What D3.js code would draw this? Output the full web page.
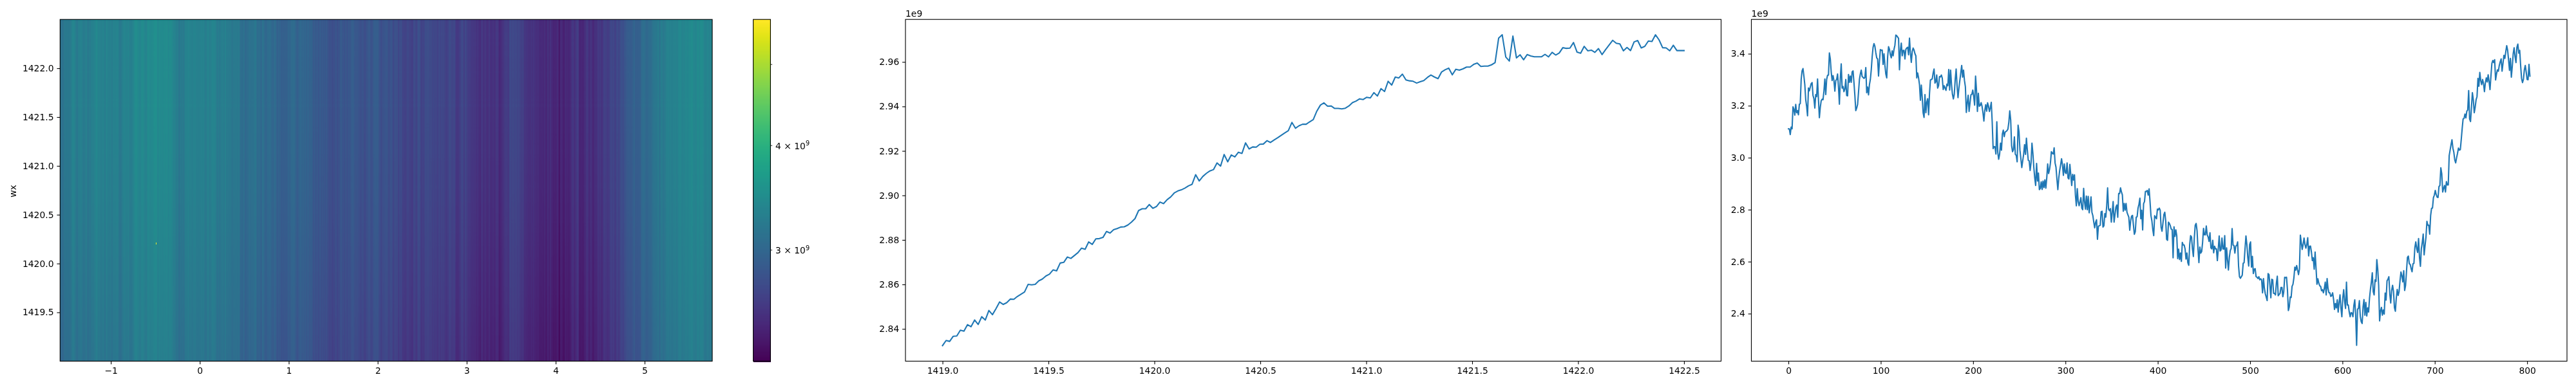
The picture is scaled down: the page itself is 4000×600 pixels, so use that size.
<!DOCTYPE html>
<html>
<head>
<meta charset="utf-8">
<script src="https://cdn.jsdelivr.net/npm/d3@7"></script>
<style>
html,body{margin:0;padding:0;background:#fff;width:4000px;height:600px;overflow:hidden}
canvas,svg{position:absolute;left:0;top:0}
text{font-family:"DejaVu Sans",sans-serif;fill:#000}
</style>
</head>
<body>
<canvas id="heat" width="4000" height="600"></canvas>
<svg id="chart" width="4000" height="600"></svg>
<script>
// ---- Data (units of 1e9) ----
const wxMean = [
2.8325,2.8348,2.8344,2.8367,2.8368,2.8394,2.8390,2.8419,2.8410,2.8440,2.8420,2.8455,2.8440,2.8483,2.8464,2.8491,2.8521,2.8510,2.8518,2.8534,
2.8533,2.8546,2.8556,2.8566,2.8600,2.8598,2.8600,2.8616,2.8624,2.8638,2.8646,2.8665,2.8661,2.8696,2.8699,2.8723,2.8717,2.8730,2.8743,2.8763,
2.8758,2.8791,2.8780,2.8805,2.8806,2.8811,2.8838,2.8831,2.8846,2.8851,2.8858,2.8859,2.8867,2.8880,2.8896,2.8932,2.8940,2.8940,2.8959,2.8942,
2.8950,2.8970,2.8963,2.8981,2.8993,2.9011,2.9020,2.9025,2.9033,2.9043,2.9050,2.9093,2.9065,2.9085,2.9099,2.9110,2.9116,2.9146,2.9132,2.9184,
2.9151,2.9182,2.9173,2.9194,2.9189,2.9236,2.9209,2.9218,2.9217,2.9230,2.9231,2.9246,2.9238,2.9249,2.9259,2.9270,2.9281,2.9291,2.9328,2.9302,
2.9313,2.9320,2.9320,2.9331,2.9341,2.9379,2.9406,2.9416,2.9401,2.9402,2.9391,2.9391,2.9389,2.9392,2.9402,2.9417,
2.9424,2.9434,2.9431,2.9441,2.9438,2.9462,2.9447,2.9480,2.9467,2.9513,2.9496,2.9532,2.9528,2.9545,2.9519,2.9515,2.9513,2.9505,2.9511,2.9516,
2.9530,2.9541,2.9532,2.9525,2.9555,2.9565,2.9572,2.9542,2.9567,2.9563,2.9569,2.9577,2.9577,2.9589,2.9595,2.9580,2.9581,2.9581,2.9587,2.9597,
2.9707,2.9722,2.9622,2.9604,2.9716,2.9618,2.9632,2.9610,2.9633,2.9627,2.9623,2.9623,2.9623,2.9634,2.9623,2.9643,2.9631,2.9640,2.9664,2.9661,
2.9662,2.9687,2.9644,2.9639,2.9670,2.9650,2.9653,2.9643,2.9660,2.9633,2.9655,2.9676,2.9697,2.9684,2.9681,2.9650,2.9665,2.9651,2.9690,2.9696,
2.9663,2.9670,2.9694,2.9692,2.9722,2.9699,2.9664,2.9663,2.9650,2.9675,2.9651,2.9651,2.9651];

const wyMeanA = [
3.111,3.111,3.089,3.118,3.111,3.196,3.186,3.164,3.205,3.173,3.181,3.165,3.206,3.208,3.301,3.334,3.343,3.314,3.281,3.223,
3.198,3.161,3.268,3.257,3.272,3.285,3.289,3.239,3.227,3.191,3.243,3.235,3.303,3.223,3.154,3.194,3.219,3.225,3.223,3.256,
3.303,3.243,3.301,3.317,3.318,3.403,3.380,3.330,3.297,3.316,3.297,3.256,3.297,3.301,3.322,3.272,3.206,3.305,3.361,3.268,
3.274,3.254,3.264,3.301,3.239,3.238,3.320,3.290,3.314,3.290,3.330,3.334,3.289,3.239,3.181,3.191,3.205,3.252,3.301,3.322,
3.337,3.312,3.309,3.305,3.309,3.347,3.250,3.272,3.242,3.281,3.301,3.338,3.388,3.425,3.439,3.429,3.404,3.384,3.380,3.314,
3.371,3.416,3.413,3.414,3.359,3.400,3.355,3.322,3.307,3.388,3.427,3.417,3.396,3.384,3.411,3.392,3.417,3.433,3.472,3.469,
3.464,3.459,3.338,3.413,3.441,3.392,3.413,3.413,3.380,3.417,3.422,3.425,3.396,3.460,3.404,3.367,3.408,3.422,3.414,3.400,
3.392,3.307,3.326,3.307,3.281,3.221,3.279,3.231,3.172,3.155,3.243,3.173,3.214,3.227,3.165,3.247,3.299,3.301,3.303,3.326,
3.341,3.287];
const wyMeanB = [
3.292,3.318,3.268,3.277,3.312,3.311,3.318,3.306,3.262,3.277,3.268,3.259,3.283,3.277,3.339,3.260,3.337,3.281,3.244,3.226,
3.244,3.302,3.341,3.277,3.231,3.268,3.297,3.326,3.355,3.310,3.337,3.297,3.273,3.174,3.211,3.240,3.178,3.211,3.242,3.244,
3.260,3.235,3.202,3.314,3.260,3.178,3.248,3.198,3.201,3.212,3.198,3.174,3.141,3.182,3.204,3.179,3.211,3.198,3.178,3.193,
3.213,3.137,3.035,3.043,3.042,3.014,3.138,3.021,2.994,3.013,3.056,3.029,3.091,3.106,3.081,3.099,3.101,3.104,3.110,3.137,
3.180,3.145,3.046,3.023,3.031,3.080,3.013,3.009,2.984,3.125,3.099,3.029,2.996,2.962,2.988,3.013,3.050,3.013,3.075,3.029,
2.990,2.988,2.951,2.980,3.056,3.017,2.963,2.922,2.893,2.978,2.910,2.941,2.877,2.881,2.907,2.878,2.910,2.885,2.915,2.883,
2.922,2.976,2.939,2.955,2.980,3.023,3.017,3.014,3.038,2.980,2.963,2.918,2.877,2.922,2.951,2.972,2.996,2.972,2.932,2.976,
2.943,2.939,2.980,2.922,2.918,2.974,2.934,2.893,2.936,2.914,2.934,2.856,2.815,2.881,2.831,2.815];
const wyMeanC = [
2.846,2.806,2.800,2.882,2.831,2.802,2.852,2.800,2.851,2.788,2.814,2.849,2.790,2.777,2.752,2.730,2.752,2.761,2.686,2.736,
2.738,2.740,2.792,2.794,2.733,2.738,2.785,2.771,2.814,2.884,2.802,2.796,2.804,2.752,2.790,2.831,2.752,2.781,2.810,2.818,
2.771,2.862,2.862,2.884,2.868,2.857,2.794,2.824,2.798,2.824,2.790,2.780,2.771,2.721,2.757,2.775,2.778,2.740,2.705,2.715,
2.771,2.773,2.806,2.821,2.844,2.765,2.798,2.722,2.823,2.831,2.870,2.870,2.874,2.856,2.880,2.831,2.777,2.757,2.723,2.700,
2.777,2.771,2.765,2.802,2.799,2.806,2.798,2.732,2.717,2.748,2.781,2.790,2.757,2.686,2.682,2.752,2.747,2.738,2.725,2.723,
2.615,2.734,2.697,2.722,2.699,2.612,2.648,2.608,2.633,2.601,2.674,2.664,2.664,2.649,2.610,2.633,2.596,2.586,2.666,2.700,
2.695,2.649,2.620,2.691,2.740,2.747,2.719,2.649,2.596,2.656,2.633,2.639,2.674,2.728,2.703,2.703,2.737,2.703,2.695,2.678,
2.711,2.653,2.649,2.682,2.634,2.659,2.649,2.649,2.604,2.649,2.699,2.641,2.645,2.691,2.649,2.648,2.700,2.575,2.653,2.608];
const wyMeanD = [
2.568,2.616,2.643,2.651,2.727,2.664,2.662,2.633,2.660,2.662,2.676,2.583,2.542,2.536,2.542,2.548,2.594,2.596,2.649,2.699,
2.666,2.616,2.583,2.666,2.676,2.579,2.620,2.554,2.571,2.573,2.542,2.540,2.535,2.542,2.530,2.534,2.530,2.480,2.535,2.497,
2.476,2.464,2.450,2.554,2.550,2.509,2.461,2.532,2.530,2.478,2.478,2.472,2.517,2.544,2.469,2.474,2.478,2.501,2.501,2.465,
2.484,2.540,2.538,2.540,2.492,2.412,2.426,2.464,2.462,2.505,2.513,2.538,2.579,2.567,2.585,2.568,2.550,2.571,2.702,2.674,
2.647,2.666,2.691,2.666,2.652,2.667,2.692,2.622,2.659,2.660,2.637,2.604,2.615,2.571,2.637,2.575,2.513,2.534,2.517,2.507,
2.505,2.488,2.492,2.480,2.497,2.521,2.472,2.535,2.497,2.480,2.480,2.466,2.469,2.480,2.455,2.416,2.439,2.422,2.453,2.406,
2.443,2.472,2.422,2.388,2.460,2.492,2.447,2.420,2.521,2.433,2.433,2.406,2.388,2.404,2.402,2.388,2.431,2.453,2.394,2.278,
2.417,2.420,2.450,2.389,2.369,2.362,2.426,2.454,2.394,2.443,2.391,2.422,2.406,2.460,2.494,2.521,2.557,2.484,2.472,2.530,
2.524];
const wyMeanE = [
2.608,2.571,2.509,2.372,2.410,2.424,2.394,2.414,2.398,2.479,2.452,2.526,2.532,2.542,2.476,2.441,2.489,2.509,2.485,2.423,
2.409,2.460,2.493,2.470,2.485,2.526,2.560,2.546,2.522,2.565,2.489,2.509,2.563,2.616,2.621,2.592,2.589,2.573,2.561,2.592,
2.593,2.654,2.676,2.650,2.635,2.689,2.616,2.582,2.650,2.674,2.706,2.626,2.662,2.695,2.755,2.740,2.740,2.706,2.777,2.805,
2.806,2.846,2.856,2.874,2.858,2.848,2.847,2.889,2.893,2.961,2.938,2.868,2.882,2.893,2.868,2.908,2.895,2.895,3.008,3.029,
3.050,3.069,3.037,3.021,2.992,2.980,3.000,3.017,3.037,3.029,3.031,3.070,3.112,3.149,3.151,3.168,3.153,3.179,3.184,3.258,
3.149,3.139,3.194,3.250,3.223,3.173,3.194,3.223,3.235,3.305,3.275,3.328,3.297,3.281,3.301,3.285,3.254,3.289,3.307,3.291,
3.319,3.293,3.262,3.314,3.363,3.374,3.366,3.377,3.299,3.322,3.338,3.333,3.355,3.369,3.380,3.333,3.363,3.394,3.382,3.408,
3.431,3.413,3.376,3.336,3.382,3.310,3.351,3.400,3.423,3.388,3.366,3.425,3.437,3.402,3.413,3.355,3.305,3.289,3.301,3.338,
3.355,3.330,3.301,3.300,3.359,3.314];
// sample-number range each piece of the wy profile covers
const wyPieces = [[wyMeanA,0,158.7],[wyMeanB,159.6,314.8],[wyMeanC,316.7,475.5],[wyMeanD,476.5,636.3],[wyMeanE,637.2,803]];

const wxTicks1 = [1419.5,1420,1420.5,1421,1421.5,1422];
const thetaTicks = [-1,0,1,2,3,4,5];
const cbarTicks = [3,4];
const cbarMinor = [3,4,5];
const valueTicks2 = [2.84,2.86,2.88,2.90,2.92,2.94,2.96];
const wxTicks2 = [1419,1419.5,1420,1420.5,1421,1421.5,1422,1422.5];
const valueTicks3 = [2.4,2.6,2.8,3.0,3.2,3.4];
const indexTicks = [0,100,200,300,400,500,600,700,800];
const outlierCell = {col:118,row:72,value:5.66};

// ---- Layout ----
const topY = 30.2, bottomY = 561.4;
const P1 = {l:93.3,r:1106}, CB = {l:1169.6,r:1196.4}, P2 = {l:1406,r:2672.5}, P3 = {l:2719.5,r:3986};

const svg = d3.select("#chart");
const fontSize = 13.9, lw = 1.11;

// ---- flatten wy profile ----
const wyPoints = [];
wyPieces.forEach(([vals,a,b]) => vals.forEach((v,k) => wyPoints.push({i:a+k*(b-a)/(vals.length-1),v})));
const wyBis = d3.bisector(d => d.i).center;
const nCols = 804, nRows = 210;
const wyColumn = d3.range(nCols).map(c => wyPoints[wyBis(wyPoints,c)].v);

// ---- Scales ----
const x1 = d3.scaleLinear().domain([-1.5708,5.7605]).range([P1.l,P1.r]);
const y1 = d3.scaleLinear().domain([1419,1422.5]).range([bottomY,topY]);
const cLog = d3.scaleLog().domain([2.21,5.66]).range([0,1]);
const colour = v => d3.interpolateViridis(Math.max(0,Math.min(1,cLog(v))));
const yc = d3.scaleLog().domain([2.21,5.66]).range([bottomY,topY]);
const x2 = d3.scaleLinear().domain([1418.825,1422.675]).range([P2.l,P2.r]);
const y2 = d3.scaleLinear().domain([2.8255,2.9791]).range([bottomY,topY]);
const x3 = d3.scaleLinear().domain([-40.15,843.15]).range([P3.l,P3.r]);
const y3 = d3.scaleLinear().domain([2.217,3.532]).range([bottomY,topY]);

// ---- Heatmap: one cell per sample, then resampled smoothly into the axes ----
const ctx = document.getElementById("heat").getContext("2d");
const cellCanvas = document.createElement("canvas");
cellCanvas.width = nCols; cellCanvas.height = nRows;
const cellCtx = cellCanvas.getContext("2d");
const wxMeanAll = d3.mean(wxMean);
for (let r=0;r<nRows;r++){
  const f = wxMean[Math.min(r,wxMean.length-1)]/wxMeanAll;
  for (let c=0;c<nCols;c++){
    cellCtx.fillStyle = colour(wyColumn[c]*f);
    cellCtx.fillRect(c,nRows-1-r,1,1);
  }
}
ctx.imageSmoothingEnabled = true;
ctx.imageSmoothingQuality = "high";
ctx.drawImage(cellCanvas,x1.range()[0],y1.range()[1],x1.range()[1]-x1.range()[0],y1.range()[0]-y1.range()[1]);
const cellX = d3.scaleLinear().domain([0,nCols]).range(x1.domain());
ctx.fillStyle = colour(outlierCell.value);
ctx.fillRect(Math.round(x1(cellX(outlierCell.col))),Math.round(y1(1419+(outlierCell.row+1)/60)),1,3);

// ---- Colour bar ----
const cbSteps = d3.range(0,531).map(k => k);
const cbPix = d3.scaleLinear().domain([0,531]).range([bottomY,topY]);
cbSteps.forEach(k => {
  const v = yc.invert(cbPix(k+0.5));
  ctx.fillStyle = colour(v);
  ctx.fillRect(Math.round(CB.l),Math.floor(cbPix(k+1)),Math.round(CB.r-CB.l),Math.ceil(cbPix(k)-cbPix(k+1))+1);
});

// ---- helpers ----
function frame(l,r){
  svg.append("rect").attr("x",l).attr("y",topY).attr("width",r-l).attr("height",bottomY-topY)
    .attr("fill","none").attr("stroke","#000").attr("stroke-width",lw);
}
function bottomAxis(scale,ticks,fmt){
  const g = svg.append("g").attr("transform",`translate(0,${bottomY})`)
    .call(d3.axisBottom(scale).tickValues(ticks).tickFormat(fmt).tickSize(4.86).tickPadding(4.9));
  style(g);
}
function leftAxis(scale,ticks,fmt,l){
  const g = svg.append("g").attr("transform",`translate(${l},0)`)
    .call(d3.axisLeft(scale).tickValues(ticks).tickFormat(fmt).tickSize(4.86).tickPadding(4.9));
  style(g);
}
function style(g){
  g.select(".domain").remove();
  g.selectAll("line").attr("stroke","#000").attr("stroke-width",lw);
  g.selectAll("text").attr("font-size",fontSize).attr("font-family","DejaVu Sans").attr("fill","#000");
}
function lineMark(xs,ys,data,xv,yv){
  svg.append("path").attr("fill","none").attr("stroke","#1f77b4").attr("stroke-width",2.08)
    .attr("stroke-linejoin","round").attr("stroke-linecap","square")
    .attr("d",d3.line().x(d=>xs(xv(d))).y(d=>ys(yv(d)))(data));
}
function offset(x,y){
  svg.append("text").attr("x",x).attr("y",y).attr("font-size",fontSize).text("1e9");
}

// ---- Panel 1 ----
frame(P1.l,P1.r);
bottomAxis(x1,thetaTicks,d3.format("d"));
leftAxis(y1,wxTicks1,d3.format(".1f"),P1.l);
svg.append("text").attr("transform",`translate(25,297) rotate(-90)`).attr("text-anchor","middle")
  .attr("font-size",fontSize).text("wx");

// ---- Colour bar frame / ticks ----
frame(CB.l,CB.r);
const cbTickG = svg.append("g");
cbTickG.selectAll("line").data(cbarMinor).join("line")
  .attr("x1",CB.r).attr("x2",CB.r+2.78).attr("y1",d=>yc(d)).attr("y2",d=>yc(d))
  .attr("stroke","#000").attr("stroke-width",0.83);
const cbLab = cbTickG.selectAll("text").data(cbarTicks).join("text")
  .attr("x",CB.r+7.5).attr("y",d=>yc(d)+5.5).attr("font-size",fontSize);
cbLab.append("tspan").text(d=>d+" \u00d7 10");
cbLab.append("tspan").attr("dy",-5.5).attr("font-size",fontSize*0.7).text("9");

// ---- Panel 2 ----
frame(P2.l,P2.r);
bottomAxis(x2,wxTicks2,d3.format(".1f"));
leftAxis(y2,valueTicks2,d3.format(".2f"),P2.l);
offset(P2.l,26);
const wxStep = 3.5/(wxMean.length-1);
lineMark(x2,y2,wxMean.map((v,i)=>({x:1419+i*wxStep,v})),d=>d.x,d=>d.v);

// ---- Panel 3 ----
frame(P3.l,P3.r);
bottomAxis(x3,indexTicks,d3.format("d"));
leftAxis(y3,valueTicks3,d3.format(".1f"),P3.l);
offset(P3.l,26);
lineMark(x3,y3,wyPoints,d=>d.i,d=>d.v);
</script>
</body>
</html>
